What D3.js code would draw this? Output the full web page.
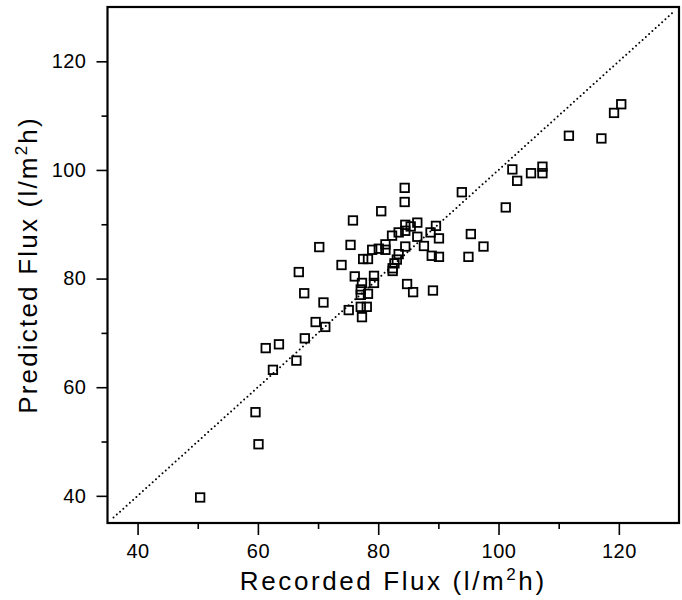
<!DOCTYPE html>
<html>
<head>
<meta charset="utf-8">
<script src="https://cdn.jsdelivr.net/npm/d3@7"></script>
<style>
  body { margin: 0; background: #fff; }
  text { font-family: "Liberation Sans", Arial, sans-serif; fill: #000; }
</style>
</head>
<body>
<svg id="chart" width="682" height="600"></svg>
<script>
// values
var recordedFlux = [50.4, 59.6, 60.1, 61.3, 63.5, 62.5, 66.4, 67.8, 69.6, 71.2,
  66.8, 67.7, 70.2, 70.9, 73.9, 75.1, 75.4, 75.8, 76.1, 77.1,
  78.1, 77.3, 77.3, 77.1, 77.1, 78.3, 77.5, 78.3, 79.0, 80.1,
  79.3, 79.3, 80.5, 81.2, 81.2, 82.3, 83.4, 83.4, 83.1, 82.7,
  82.4, 82.4, 84.4, 84.4, 84.5, 84.5, 85.4, 86.5, 86.5, 84.5,
  87.6, 84.8, 85.8, 89.1, 89.6, 88.7, 90.1, 88.9, 90.1, 93.9,
  95.4, 95.0, 97.5, 101.2, 102.3, 103.1, 105.4, 107.3, 107.3, 111.7,
  117.1, 119.2, 120.4];
var predictedFlux = [39.7, 55.4, 49.5, 67.2, 67.9, 63.2, 64.9, 69.0, 72.0, 71.1,
  81.2, 77.3, 85.8, 75.6, 82.5, 74.2, 86.2, 90.7, 80.4, 74.8,
  74.8, 72.9, 79.2, 78.0, 77.0, 77.2, 83.6, 83.6, 85.3, 85.5,
  80.5, 79.2, 92.4, 86.3, 85.3, 87.9, 88.5, 84.5, 83.5, 82.8,
  81.9, 81.4, 96.7, 94.1, 89.9, 88.8, 89.6, 90.3, 87.7, 85.9,
  86.0, 79.0, 77.5, 77.8, 89.7, 88.5, 87.4, 84.2, 84.0, 95.9,
  88.2, 84.0, 85.9, 93.1, 100.1, 98.0, 99.4, 100.6, 99.4, 106.3,
  105.8, 110.5, 112.1];
var majorTicks = [40, 60, 80, 100, 120];
var minorTicks = [50, 70, 90, 110];
var axisRange = [35, 130];
var diagonal = [36, 129];

(function() {
var svg = d3.select('#chart');
var mLeft = 107.5, mRight = 679, mTop = 7, mBottom = 523;

var x = d3.scaleLinear().domain(axisRange).range([mLeft, mRight]);
var y = d3.scaleLinear().domain(axisRange).range([mBottom, mTop]);

var points = recordedFlux.map(function(d, i) { return { x: d, y: predictedFlux[i] }; });

// perfect-agreement line
svg.append('line')
  .attr('x1', x(diagonal[0])).attr('y1', y(diagonal[0]))
  .attr('x2', x(diagonal[1])).attr('y2', y(diagonal[1]))
  .attr('stroke', '#000')
  .attr('stroke-width', 2)
  .attr('stroke-linecap', 'round')
  .attr('stroke-dasharray', '0,4.4');

// axes
var xAxis = svg.append('g').attr('transform', 'translate(0,' + mBottom + ')');
xAxis.call(d3.axisBottom(x).tickValues(majorTicks).tickSize(12).tickPadding(9).tickFormat(d3.format('d')));
xAxis.append('g').call(d3.axisBottom(x).tickValues(minorTicks).tickSize(6).tickFormat(''));

var yAxis = svg.append('g').attr('transform', 'translate(' + mLeft + ',0)');
yAxis.call(d3.axisLeft(y).tickValues(majorTicks).tickSize(11).tickPadding(10).tickFormat(d3.format('d')));
yAxis.append('g').call(d3.axisLeft(y).tickValues(minorTicks).tickSize(6).tickFormat(''));

svg.selectAll('.domain').remove();
svg.selectAll('.tick line').attr('stroke', '#000').attr('stroke-width', 1.6);
svg.selectAll('.tick text')
  .style('font-family', '"Liberation Sans", Arial, sans-serif')
  .style('font-size', '20px')
  .style('letter-spacing', '0.5px')
  .attr('fill', '#000');

// frame
svg.append('rect')
  .attr('x', mLeft).attr('y', mTop)
  .attr('width', mRight - mLeft).attr('height', mBottom - mTop)
  .attr('fill', 'none')
  .attr('stroke', '#000')
  .attr('stroke-width', 2.2);

// markers
svg.append('g').selectAll('rect')
  .data(points)
  .enter().append('rect')
  .attr('x', function(d) { return x(d.x) - 4.25; })
  .attr('y', function(d) { return y(d.y) - 4.25; })
  .attr('width', 8.5)
  .attr('height', 8.5)
  .attr('fill', 'none')
  .attr('stroke', '#000')
  .attr('stroke-width', 1.8);

// axis titles
var xt = svg.append('text')
  .attr('x', (mLeft + mRight) / 2)
  .attr('y', 590)
  .attr('text-anchor', 'middle')
  .style('font-size', '26px')
  .style('letter-spacing', '2.6px');
xt.append('tspan').text('Recorded Flux (l/m');
xt.append('tspan').attr('dy', -10).style('font-size', '17px').text('2');
xt.append('tspan').attr('dy', 10).text('h)');

var yt = svg.append('text')
  .attr('transform', 'translate(37,' + ((mTop + mBottom) / 2) + ') rotate(-90)')
  .attr('text-anchor', 'middle')
  .style('font-size', '26px')
  .style('letter-spacing', '2.2px');
yt.append('tspan').text('Predicted Flux (l/m');
yt.append('tspan').attr('dy', -10).style('font-size', '17px').text('2');
yt.append('tspan').attr('dy', 10).text('h)');
})();
</script>
</body>
</html>
